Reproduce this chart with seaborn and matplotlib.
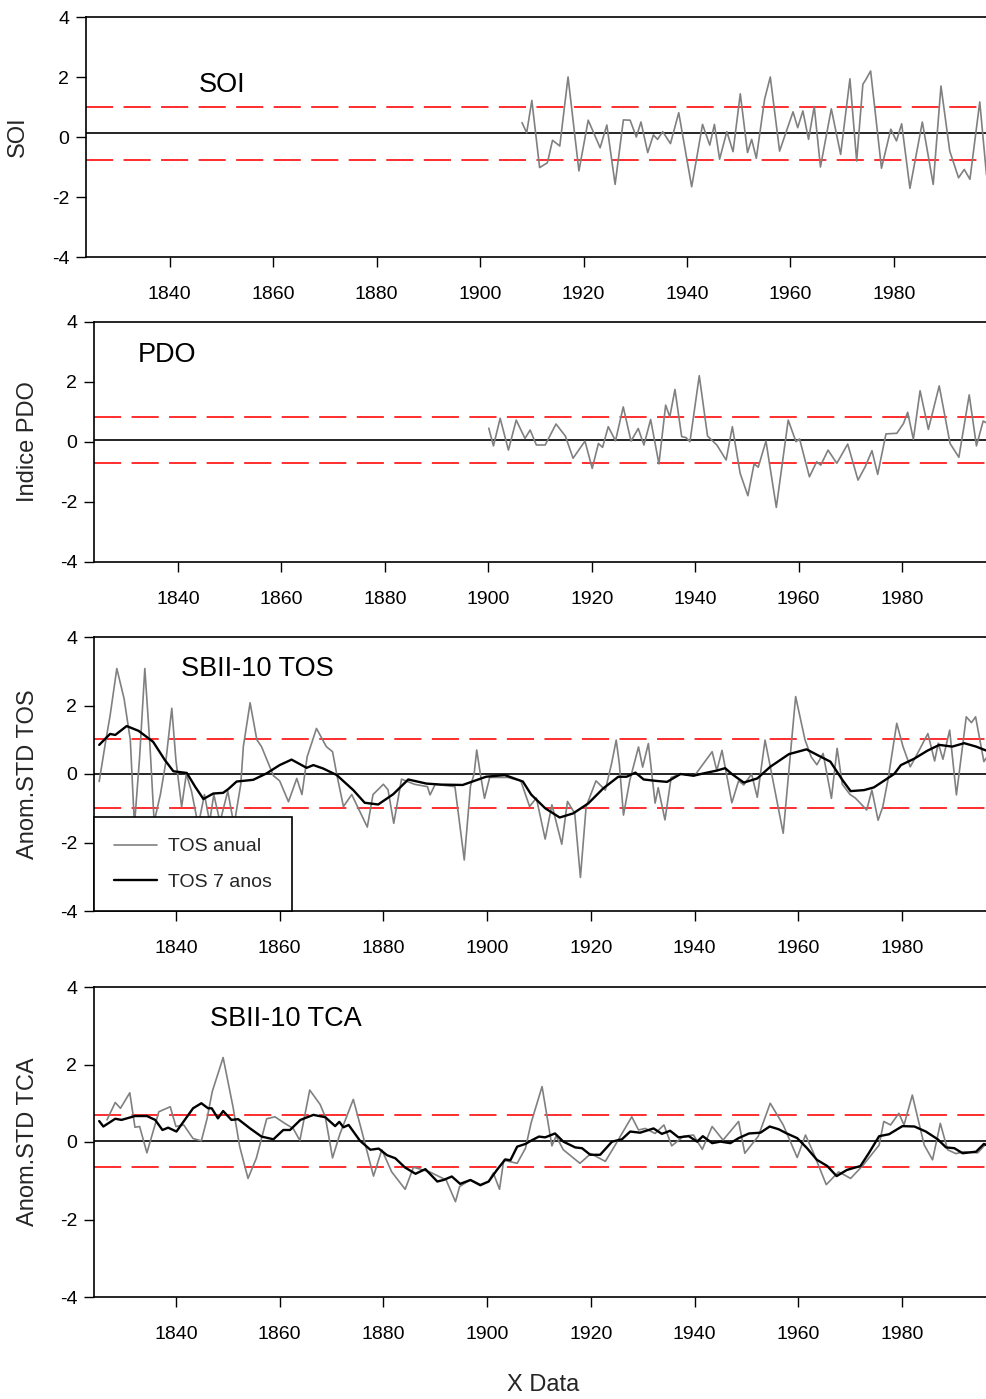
import matplotlib
matplotlib.use("Agg")
import matplotlib.pyplot as plt
import seaborn as sns
import pandas as pd

# ---------------- data ----------------
soi_years = [1908.1, 1909, 1910, 1911.5, 1913, 1914, 1915.4, 1917, 1919.1, 1920.9, 1923.2, 1924.5,
             1926.1, 1927.7, 1929, 1930.2, 1931.1, 1932.4, 1933.5, 1934.3, 1935.3, 1936.8, 1938.4,
             1940.9, 1943, 1944.4, 1945.3, 1946.3, 1947.7, 1948.9, 1950.3, 1951.7, 1952.5, 1953.4,
             1955, 1956.1, 1957.9, 1960.5, 1961.4, 1962.4, 1963.5, 1964.6, 1965.8, 1967.9, 1969.7,
             1971.5, 1972.8, 1974, 1974.5, 1975.5, 1977.6, 1979.4, 1980.5, 1981.5, 1983.1, 1985.5,
             1987.6, 1989.1, 1990.8, 1992.5, 1993.6, 1994.7, 1996.6, 1997.9]
soi_values = [0.48, 0.14, 1.22, -1.02, -0.86, -0.11, -0.30, 2.0, -1.13, 0.56, -0.36, 0.40,
              -1.58, 0.57, 0.56, 0.0, 0.50, -0.52, 0.07, -0.08, 0.18, -0.22, 0.81,
              -1.66, 0.42, -0.27, 0.42, -0.74, 0.18, -0.49, 1.44, -0.52, -0.08, -0.71,
              1.26, 2.0, -0.47, 0.84, 0.31, 0.87, -0.08, 1.02, -1.0, 0.94, -0.58,
              1.94, -0.80, 1.76, 1.89, 2.2, -1.04, 0.26, -0.13, 0.44, -1.71, 0.50,
              -1.58, 1.70, -0.47, -1.36, -1.08, -1.41, 1.17, -1.26]

pdo_years = [1900.1, 1901, 1902.3, 1903.9, 1905.4, 1907.1, 1908.1, 1909.3, 1911, 1913.1, 1914.9,
             1916.4, 1918.7, 1920.1, 1921.3, 1922.1, 1923.2, 1924.6, 1926.1, 1927.6, 1929, 1930.1,
             1931.4, 1933, 1934.3, 1935.1, 1936.1, 1937.4, 1938.2, 1939, 1940.8, 1942.4, 1944.2,
             1946, 1947.2, 1948.7, 1950.2, 1951.4, 1952.2, 1953.7, 1955.7, 1958, 1959.5, 1960.2,
             1962.1, 1963.5, 1964.3, 1965.7, 1967.4, 1969.5, 1971.5, 1972.9, 1974.2, 1975.3,
             1976.9, 1979, 1980.3, 1981.1, 1982.2, 1983.5, 1985.1, 1987.2, 1989.3, 1991, 1993,
             1994.4, 1995.7, 1996.3]
pdo_values = [0.46, -0.13, 0.79, -0.27, 0.73, 0.12, 0.40, -0.10, -0.10, 0.60, 0.20,
              -0.54, 0.03, -0.88, -0.05, -0.18, 0.51, 0.04, 1.17, 0.03, 0.45, -0.10,
              0.75, -0.73, 1.23, 0.84, 1.75, 0.18, 0.15, 0.01, 2.21, 0.20, -0.10,
              -0.60, 0.51, -1.04, -1.79, -0.73, -0.84, 0.03, -2.18, 0.73, 0.01, 0.10,
              -1.16, -0.66, -0.77, -0.27, -0.71, -0.07, -1.27, -0.82, -0.29, -1.08,
              0.27, 0.29, 0.62, 0.99, 0.09, 1.71, 0.42, 1.87, -0.05, -0.51, 1.57,
              -0.13, 0.70, 0.64]

tos_years = [1825.2, 1826.5, 1827.3, 1828.6, 1830.0, 1831.2, 1832.0, 1833.0, 1834.0, 1835.0,
             1835.8, 1837.0, 1838.0, 1839.2, 1840.0, 1841.1, 1842.0, 1843.0, 1844.3, 1845.5,
             1846.5, 1847.3, 1848.5, 1850.0, 1851.2, 1852.5, 1853.0, 1854.3, 1855.6, 1856.5,
             1858.8, 1860.0, 1861.7, 1863.3, 1864.3, 1865.3, 1867.1, 1869.0, 1870.2, 1871.0,
             1872.3, 1873.9, 1876.9, 1878.0, 1880.0, 1880.9, 1882.0, 1883.5, 1886.0, 1888.5,
             1889.0, 1890.0, 1893.8, 1895.6, 1896.8, 1897.5, 1898.0, 1898.7, 1899.5, 1900.5,
             1904.0, 1906.5, 1908.2, 1909.5, 1911.2, 1912.5, 1914.4, 1915.5, 1916.9, 1918.0,
             1919.1, 1921.0, 1922.8, 1924.0, 1924.9, 1925.5, 1926.3, 1927.5, 1929.2, 1930.0,
             1931.1, 1932.4, 1933.0, 1934.3, 1935.5, 1937.5, 1940.0, 1943.4, 1944.3, 1945.3,
             1947.2, 1948.5, 1949.5, 1951.0, 1952.1, 1953.6, 1954.5, 1957.1, 1959.5, 1961.3,
             1962.5, 1963.6, 1964.8, 1966.4, 1967.5, 1968.5, 1970.0, 1971.0, 1973.2, 1974.2,
             1975.4, 1976.3, 1977.3, 1979.0, 1980.2, 1981.6, 1983.0, 1985.0, 1986.3, 1987.0,
             1987.9, 1989.2, 1990.5, 1992.4, 1993.4, 1994.2, 1995.8, 1996.4]
tos_values = [-0.22, 1.0, 1.7, 3.08, 2.2, 1.0, -1.5, 0.5, 3.08, 0.8,
              -1.4, -0.6, 0.3, 1.92, 0.4, -0.96, 0.0, -0.5, -1.5, -0.6,
              -1.4, -0.6, -1.4, -0.5, -1.5, -0.3, 0.8, 2.08, 1.0, 0.8,
              -0.05, -0.2, -0.81, -0.13, -0.6, 0.5, 1.33, 0.8, 0.65, 0.0,
              -0.95, -0.6, -1.55, -0.6, -0.3, -0.46, -1.44, -0.15, -0.3, -0.37,
              -0.61, -0.3, -0.37, -2.51, -0.35, 0.0, 0.7, 0.0, -0.71, -0.1,
              -0.1, -0.2, -0.95, -0.7, -1.9, -0.9, -2.05, -0.8, -1.15, -3.02,
              -0.95, -0.2, -0.47, 0.3, 0.99, 0.3, -1.2, -0.2, 0.79, 0.2,
              0.89, -0.85, -0.4, -1.34, -0.1, 0.0, -0.05, 0.65, 0.1, 0.69,
              -0.84, -0.2, -0.32, 0.0, -0.68, 0.99, 0.3, -1.73, 2.26, 1.0,
              0.5, 0.27, 0.6, -0.71, 0.75, -0.3, -0.6, -0.7, -1.05, -0.47,
              -1.35, -0.96, -0.17, 1.48, 0.8, 0.21, 0.6, 1.18, 0.38, 0.9,
              0.43, 1.28, -0.61, 1.67, 1.5, 1.67, 0.36, 0.5]

tos7_years = [1825.2, 1827.3, 1828.3, 1830.5, 1832.8, 1835.6, 1837.9, 1839.5, 1842.1, 1843.7,
              1845.3, 1847.2, 1849.1, 1850.1, 1851.7, 1854.9, 1857.5, 1860.0, 1862.3, 1865.2,
              1866.5, 1868.4, 1871.0, 1874.2, 1876.4, 1879.0, 1881.9, 1884.8, 1888.3, 1891.2,
              1895.3, 1899.8, 1903.4, 1906.9, 1908.5, 1911.2, 1914.0, 1916.6, 1919.5, 1922.4,
              1925.3, 1926.9, 1928.6, 1930.2, 1932.5, 1934.7, 1937.3, 1939.8, 1941.8, 1944.3,
              1945.9, 1947.2, 1949.5, 1952.1, 1954.6, 1958.2, 1961.6, 1964.0, 1966.2, 1968.5,
              1970.1, 1972.7, 1974.6, 1977.2, 1978.5, 1979.8, 1982.4, 1984.9, 1987.2, 1989.7,
              1992.0, 1994.3, 1996.5]
tos7_values = [0.85, 1.17, 1.14, 1.40, 1.26, 0.94, 0.40, 0.08, 0.03, -0.37,
               -0.73, -0.57, -0.55, -0.44, -0.22, -0.17, 0.02, 0.26, 0.42, 0.18,
               0.26, 0.16, -0.03, -0.47, -0.84, -0.89, -0.59, -0.16, -0.28, -0.31,
               -0.32, -0.08, -0.03, -0.22, -0.60, -1.0, -1.27, -1.15, -0.86, -0.42,
               -0.08, -0.08, 0.04, -0.16, -0.20, -0.23, 0.0, -0.05, 0.02, 0.10,
               0.17, 0.0, -0.25, -0.13, 0.21, 0.58, 0.72, 0.53, 0.36, -0.17,
               -0.50, -0.47, -0.39, -0.13, 0.0, 0.26, 0.45, 0.68, 0.85, 0.80,
               0.90, 0.80, 0.67]

tca_years = [1826.7, 1828.3, 1829.3, 1831.1, 1832.1, 1833.0, 1834.4, 1836.7, 1838.9, 1840.0,
             1841.5, 1843.3, 1844.9, 1846.0, 1847.0, 1849.1, 1851.0, 1852.3, 1853.9, 1855.5,
             1856.5, 1857.5, 1859.1, 1861.0, 1862.6, 1863.9, 1865.8, 1867.8, 1868.8, 1870.2,
             1871.6, 1874.2, 1875.7, 1878.1, 1879.7, 1881.6, 1884.2, 1885.8, 1888.9, 1892.1,
             1893.9, 1894.7, 1896.7, 1898.7, 1900.3, 1901.2, 1902.4, 1903.2, 1905.8, 1907.4,
             1908.5, 1910.6, 1912.5, 1913.3, 1914.7, 1917.9, 1920.0, 1922.8, 1924.7, 1927.9,
             1929.2, 1930.5, 1932.4, 1934.1, 1935.6, 1937.9, 1939.8, 1941.5, 1943.4, 1945.5,
             1948.5, 1949.7, 1952.3, 1954.6, 1957.1, 1959.8, 1961.4, 1963.0, 1965.4, 1967.8,
             1970.1, 1972.5, 1975.6, 1976.5, 1977.8, 1979.4, 1980.4, 1982.0, 1984.3, 1985.9,
             1987.4, 1988.8, 1990.4, 1992.0, 1994.6, 1996.6]
tca_values = [0.57, 1.02, 0.87, 1.27, 0.38, 0.40, -0.28, 0.78, 0.91, 0.40,
              0.44, 0.09, 0.03, 0.60, 1.30, 2.18, 0.91, -0.12, -0.94, -0.42,
              0.09, 0.60, 0.65, 0.48, 0.35, 0.04, 1.34, 0.97, 0.65, -0.41,
              0.20, 1.10, 0.35, -0.88, -0.20, -0.77, -1.22, -0.65, -0.77, -0.98,
              -1.54, -1.15, -0.98, -1.13, -1.02, -0.80, -1.22, -0.47, -0.55, -0.16,
              0.50, 1.43, -0.10, 0.15, -0.20, -0.55, -0.30, -0.50, -0.08, 0.65,
              0.31, 0.35, 0.22, 0.44, -0.10, 0.15, 0.18, -0.19, 0.40, 0.05,
              0.53, -0.29, 0.15, 1.0, 0.44, -0.40, 0.18, -0.30, -1.10, -0.77,
              -0.94, -0.60, -0.08, 0.53, 0.44, 0.74, 0.44, 1.21, -0.08, -0.46,
              0.48, -0.20, -0.30, -0.25, -0.28, 0.01]

tca7_years = [1825.2, 1826.0, 1828.3, 1829.5, 1832.1, 1834.4, 1836.0, 1837.4, 1838.5, 1840.1,
              1841.7, 1843.3, 1844.9, 1846.2, 1846.9, 1848.1, 1849.1, 1850.7, 1852.0, 1854.3,
              1856.5, 1858.8, 1860.7, 1862.0, 1864.0, 1866.5, 1868.8, 1870.7, 1871.5, 1872.3,
              1873.3, 1875.5, 1877.5, 1879.1, 1880.7, 1882.3, 1884.2, 1886.2, 1888.1, 1890.4,
              1891.6, 1893.2, 1894.8, 1896.8, 1898.7, 1900.3, 1901.9, 1903.5, 1904.5, 1905.8,
              1907.4, 1908.7, 1910.0, 1911.2, 1913.1, 1914.7, 1917.0, 1918.3, 1919.9, 1921.8,
              1924.1, 1926.0, 1927.6, 1929.5, 1932.1, 1933.7, 1935.3, 1936.9, 1938.9, 1940.5,
              1941.6, 1943.4, 1945.0, 1946.9, 1948.5, 1950.5, 1952.7, 1954.5, 1956.2, 1957.8,
              1959.8, 1961.7, 1963.6, 1965.6, 1967.4, 1969.4, 1972.0, 1973.6, 1975.6, 1977.5,
              1980.1, 1982.4, 1984.6, 1986.9, 1988.5, 1990.1, 1991.7, 1994.3, 1995.8, 1996.6]
tca7_values = [0.54, 0.40, 0.60, 0.57, 0.67, 0.67, 0.57, 0.31, 0.37, 0.27,
               0.57, 0.87, 1.0, 0.87, 0.87, 0.61, 0.80, 0.57, 0.59, 0.35,
               0.14, 0.07, 0.31, 0.31, 0.57, 0.70, 0.64, 0.41, 0.52, 0.38,
               0.44, 0.03, -0.20, -0.17, -0.34, -0.42, -0.66, -0.82, -0.70, -1.02,
               -0.98, -0.89, -1.08, -0.98, -1.11, -1.02, -0.72, -0.45, -0.47, -0.12,
               -0.05, 0.05, 0.14, 0.12, 0.22, 0.01, -0.14, -0.16, -0.33, -0.33,
               0.01, 0.07, 0.27, 0.24, 0.35, 0.21, 0.29, 0.12, 0.15, 0.01,
               0.15, -0.03, 0.01, -0.03, 0.10, 0.22, 0.24, 0.40, 0.33, 0.22,
               0.10, -0.16, -0.46, -0.62, -0.88, -0.72, -0.62, -0.29, 0.15, 0.20,
               0.41, 0.40, 0.27, 0.07, -0.14, -0.16, -0.29, -0.25, -0.05, -0.10]

# reference levels per panel: [mean, mean+std, mean-std]
soi_levels = [0.12, 1.01, -0.77]
pdo_levels = [0.08, 0.84, -0.69]
tos_levels = [0.0, 1.02, -0.99]
tca_levels = [0.02, 0.70, -0.64]

panel_titles = ["SOI", "PDO", "SBII-10 TOS", "SBII-10 TCA"]
panel_ylabels = ["SOI", "Indice PDO", "Anom.STD TOS", "Anom.STD TCA"]
legend_labels = ["TOS anual", "TOS 7 anos"]
year_ticks = [1840, 1860, 1880, 1900, 1920, 1940, 1960, 1980]
value_ticks = [-4, -2, 0, 2, 4]

# ---------------- style ----------------
sns.set_style("ticks")
plt.rcParams["font.family"] = ["Liberation Sans", "DejaVu Sans"]
plt.rcParams["axes.unicode_minus"] = False

W, H = 987, 1399
fig = plt.figure(figsize=(W / 100, H / 100), dpi=100)


def box(l, t, r, b):
    return [l / W, 1 - b / H, (r - l) / W, (b - t) / H]


axes_rects = [box(86, 17, 987, 257), box(94, 322, 987, 562),
              box(94, 637, 987, 911), box(94, 987, 987, 1297)]
xlims = [(1823.8, 1998.0), (1823.76, 1996.44), (1824.2, 1996.4), (1824.2, 1996.4)]
title_pos = [(0.151, 0.717), (0.0817, 0.8625), (0.1825, 0.883), (0.215, 0.897)]
ylabel_x = [-0.0755, -0.0735, -0.0735, -0.0735]

GRAY = "#808080"
RED = "#ff0000"

series = [
    (soi_years, soi_values, None, None, soi_levels),
    (pdo_years, pdo_values, None, None, pdo_levels),
    (tos_years, tos_values, tos7_years, tos7_values, tos_levels),
    (tca_years, tca_values, tca7_years, tca7_values, tca_levels),
]

for i, (yrs, vals, yrs7, vals7, levels) in enumerate(series):
    ax = fig.add_axes(axes_rects[i])
    df = pd.DataFrame({"year": yrs, "value": vals})
    sns.lineplot(data=df, x="year", y="value", ax=ax, color=GRAY, lw=1.2,
                 sort=False, estimator=None, label=legend_labels[0] if i == 2 else None,
                 zorder=3)
    if yrs7 is not None:
        df7 = pd.DataFrame({"year": yrs7, "value": vals7})
        sns.lineplot(data=df7, x="year", y="value", ax=ax, color="black", lw=1.7,
                     sort=False, estimator=None, label=legend_labels[1] if i == 2 else None,
                     zorder=4)
    ax.axhline(levels[0], color="black", lw=1.2, zorder=2)
    for lv in levels[1:]:
        ax.axhline(lv, color=RED, lw=1.15, dashes=(17, 6.5), zorder=2)

    ax.set_xlim(*xlims[i])
    ax.set_ylim(-4, 4)
    ax.set_xticks(year_ticks)
    ax.set_yticks(value_ticks)
    ax.set_xlabel("")
    ax.set_ylabel(panel_ylabels[i], fontsize=17, va="center")
    ax.yaxis.set_label_coords(ylabel_x[i], 0.5)
    for s in ["top", "left", "bottom"]:
        ax.spines[s].set_visible(True)
        ax.spines[s].set_linewidth(1.2)
        ax.spines[s].set_color("black")
    ax.spines["right"].set_visible(False)
    ax.tick_params(axis="x", direction="out", length=7, width=1.0, pad=14,
                   labelsize=14, colors="black")
    ax.tick_params(axis="y", direction="out", length=7, width=1.0, pad=5,
                   labelsize=14, colors="black")
    ax.tick_params(top=False, right=False)
    ax.text(title_pos[i][0], title_pos[i][1], panel_titles[i], transform=ax.transAxes,
            ha="center", va="center", fontsize=19.5, color="black")
    if i == 2:
        leg = ax.legend(loc="lower left", bbox_to_anchor=(0, 0), borderaxespad=0,
                        frameon=True, fancybox=False, framealpha=1, edgecolor="black",
                        fontsize=14, handlelength=2.2, handletextpad=0.55,
                        labelspacing=0.9, borderpad=1.05)
        leg.get_frame().set_linewidth(1.2)
        leg.set_zorder(10)
    else:
        leg = ax.get_legend()
        if leg is not None:
            leg.remove()

fig.text(543 / W, 1 - 1385 / H, "X Data", ha="center", va="center", fontsize=17)

fig.savefig("out.png", dpi=100)
